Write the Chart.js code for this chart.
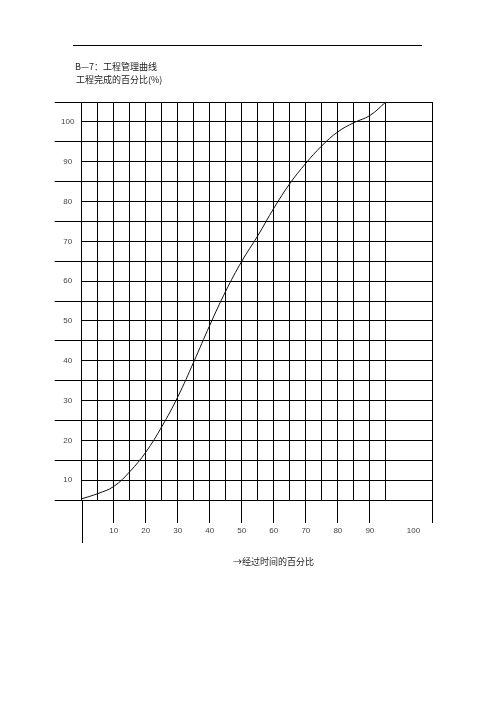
<!DOCTYPE html>
<html>
<head>
<meta charset="utf-8">
<script src="https://cdn.jsdelivr.net/npm/chart.js@4.4.1/dist/chart.umd.min.js"></script>
<style>
  body { margin: 0; background: #fff; }
  #wrap { position: relative; width: 496px; height: 702px; }
  #chart { position: absolute; left: 0; top: 0; }
  .txt { position: absolute; font-family: "Noto Sans CJK SC", sans-serif; font-size: 9px; line-height: 12px; color: #222; white-space: nowrap; }
  #rule { position: absolute; left: 73px; top: 45px; width: 349px; border-top: 1px solid #000; }
</style>
</head>
<body>
<div id="wrap">
  <canvas id="chart" width="496" height="702"></canvas>
  <div id="rule"></div>
  <div class="txt" style="left:75px; top:61px;">B—7：工程管理曲线</div>
  <div class="txt" style="left:76px; top:74px;">工程完成的百分比(%)</div>
  <div class="txt" style="left:233px; top:556px;">→经过时间的百分比</div>
</div>
<script>
// elapsed time (%) and work completed (%)
const timePct = [0, 5, 10, 15, 20, 25, 30, 35, 40, 45, 50, 55, 60, 65, 70, 75, 80, 85, 90, 95];
const donePct = [5.3, 6.6, 8.4, 12.1, 17.0, 23.4, 30.9, 39.7, 48.9, 57.5, 65.0, 71.4, 78.3, 84.5, 89.6, 94.0, 97.5, 99.8, 101.6, 105.0];

// grid and tick labels
const xGrid = [0, 5, 10, 15, 20, 25, 30, 35, 40, 45, 50, 55, 60, 65, 70, 75, 80, 85, 90, 95];
const xTickLabels = [10, 20, 30, 40, 50, 60, 70, 80, 90, 100];
const yGrid = [5, 10, 15, 20, 25, 30, 35, 40, 45, 50, 55, 60, 65, 70, 75, 80, 85, 90, 95, 100, 105];
const yTickLabels = [10, 20, 30, 40, 50, 60, 70, 80, 90, 100];

// the last column is wider than the others, "100" sits in the middle of it
const X_MAX = 109.5;
const X_100_AT = 103.6;

const points = timePct.map((t, i) => ({ x: t, y: donePct[i] }));

// the y axis runs on below the tick marks
const axisTail = {
  id: "axisTail",
  afterDraw(chart) {
    const { ctx, chartArea } = chart;
    const x0 = Math.round(chart.scales.x.getPixelForValue(0)) + 0.5;
    ctx.save();
    ctx.strokeStyle = "#000";
    ctx.lineWidth = 1;
    ctx.beginPath();
    ctx.moveTo(x0, chartArea.bottom);
    ctx.lineTo(x0, chartArea.bottom + 43);
    ctx.stroke();
    ctx.restore();
  }
};

new Chart(document.getElementById("chart"), {
  type: "line",
  data: {
    datasets: [{
      data: points,
      borderColor: "#111",
      borderWidth: 1,
      pointRadius: 0,
      tension: 0.4,
      fill: false,
      clip: false
    }]
  },
  options: {
    responsive: false,
    animation: false,
    layout: { padding: { top: 102, right: 63.7, left: 0, bottom: 0 } },
    plugins: { legend: { display: false }, tooltip: { enabled: false } },
    scales: {
      x: {
        type: "linear",
        min: 0,
        max: X_MAX,
        afterBuildTicks: (s) => {
          s.ticks = xGrid.concat([X_100_AT, X_MAX]).map(v => ({ value: v }));
        },
        afterFit: (s) => { s.height = 202; },
        grid: {
          color: (c) => c.tick && c.tick.value === X_100_AT ? "rgba(0,0,0,0)" : "#000",
          tickColor: (c) => {
            const v = c.tick ? c.tick.value : null;
            return (v === X_MAX || xTickLabels.includes(v)) ? "#000" : "rgba(0,0,0,0)";
          },
          lineWidth: 1,
          tickLength: 23
        },
        border: { display: true, color: "#000", width: 1 },
        ticks: {
          autoSkip: false,
          maxRotation: 0,
          padding: 3,
          color: "#444",
          font: { family: "Liberation Sans", size: 8 },
          callback: (v) => {
            if (v === X_100_AT) return String(xTickLabels[xTickLabels.length - 1]);
            return xTickLabels.slice(0, -1).includes(v) ? String(v) : "";
          }
        }
      },
      y: {
        type: "linear",
        min: 5,
        max: 105,
        afterBuildTicks: (s) => {
          s.ticks = yGrid.map(v => ({ value: v }));
        },
        afterFit: (s) => { s.width = 81.7; },
        grid: {
          color: "#000",
          tickColor: (c) => c.tick && yTickLabels.includes(c.tick.value) ? "rgba(0,0,0,0)" : "#000",
          lineWidth: 1,
          tickLength: 27
        },
        border: { display: true, color: "#000", width: 1 },
        ticks: {
          autoSkip: false,
          crossAlign: "center",
          padding: -19.7,
          color: "#444",
          font: { family: "Liberation Sans", size: 8 },
          callback: (v) => yTickLabels.includes(v) ? String(v) : ""
        }
      }
    }
  },
  plugins: [axisTail]
});
</script>
</body>
</html>
